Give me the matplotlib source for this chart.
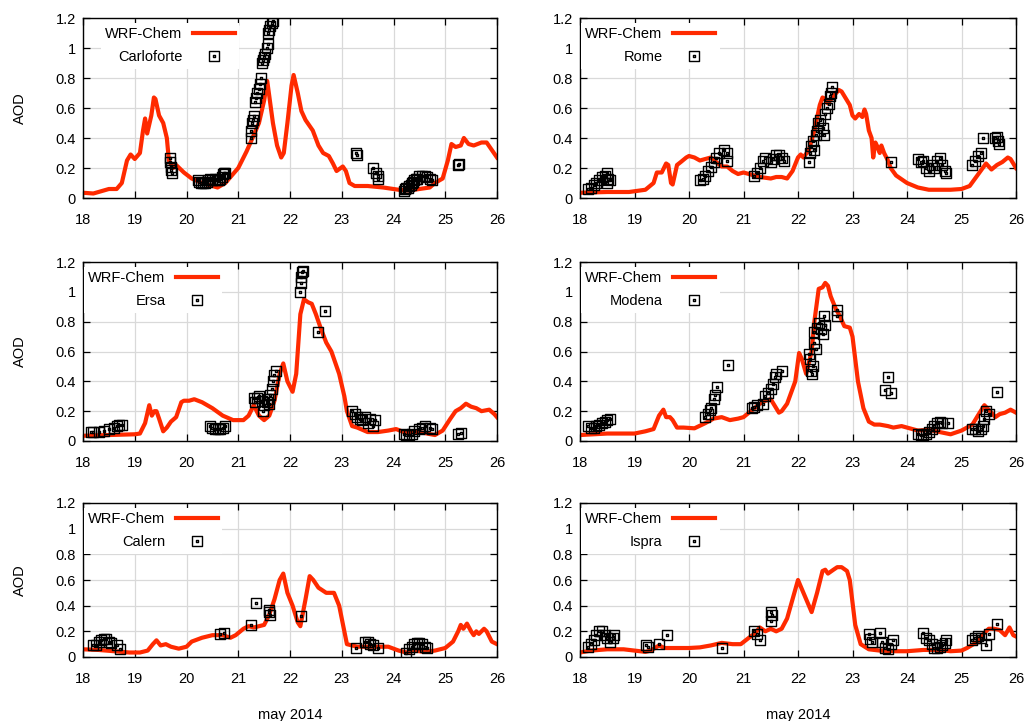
import matplotlib
matplotlib.use("Agg")
import matplotlib.pyplot as plt
from matplotlib.path import Path
from matplotlib.ticker import FormatStrFormatter, MultipleLocator

plt.rcParams['font.family'] = ['Liberation Sans', 'DejaVu Sans']
plt.rcParams['font.size'] = 10.5

# ---- WRF-Chem model curves (day of may 2014, AOD) ----
carlo_mod_t = [18.0, 18.2, 18.4, 18.5, 18.65, 18.75, 18.85, 18.92, 19.0, 19.1, 19.16, 19.2, 19.24,
               19.32, 19.37, 19.4, 19.47, 19.55, 19.62, 19.66, 19.74, 19.8, 19.95, 20.1, 20.3, 20.5,
               20.6, 20.75, 20.9, 21.0, 21.16, 21.25, 21.4, 21.5, 21.56, 21.67, 21.75, 21.83, 21.88,
               21.95, 22.03, 22.07, 22.15, 22.22, 22.3, 22.44, 22.55, 22.64, 22.75, 22.83, 22.9, 23.02,
               23.08, 23.15, 23.25, 23.5, 23.8, 24.1, 24.3, 24.5, 24.7, 24.8, 24.95, 25.05, 25.12,
               25.2, 25.3, 25.36, 25.45, 25.55, 25.7, 25.8, 25.9, 26.0]
carlo_mod = [0.035, 0.03, 0.05, 0.06, 0.06, 0.1, 0.25, 0.29, 0.26, 0.3, 0.45, 0.53, 0.43,
             0.55, 0.67, 0.66, 0.55, 0.5, 0.4, 0.25, 0.2, 0.22, 0.17, 0.13, 0.1, 0.08,
             0.07, 0.1, 0.16, 0.2, 0.31, 0.38, 0.5, 0.65, 0.78, 0.5, 0.35, 0.27, 0.3,
             0.5, 0.75, 0.82, 0.7, 0.58, 0.52, 0.45, 0.35, 0.3, 0.28, 0.23, 0.18, 0.21,
             0.18, 0.1, 0.08, 0.08, 0.07, 0.055, 0.05, 0.06, 0.07, 0.1, 0.13, 0.25, 0.36,
             0.34, 0.35, 0.4, 0.36, 0.35, 0.37, 0.37, 0.32, 0.27]

rome_mod_t = [18.0, 18.5, 18.9, 19.0, 19.2, 19.35, 19.41, 19.5, 19.58, 19.62, 19.67, 19.7, 19.78,
              19.85, 19.95, 20.0, 20.1, 20.2, 20.3, 20.4, 20.5, 20.6, 20.7, 20.8, 20.9, 21.0, 21.1,
              21.2, 21.3, 21.5, 21.6, 21.7, 21.8, 21.9, 22.0, 22.05, 22.1, 22.2, 22.3, 22.4, 22.45,
              22.5, 22.55, 22.65, 22.75, 22.8, 22.9, 22.95, 23.0, 23.05, 23.12, 23.18, 23.22, 23.25,
              23.3, 23.35, 23.38, 23.42, 23.46, 23.5, 23.53, 23.58, 23.65, 23.7, 23.8, 24.0, 24.2,
              24.4, 24.6, 24.8, 25.0, 25.15, 25.25, 25.35, 25.45, 25.55, 25.65, 25.75, 25.85, 25.9, 26.0]
rome_mod = [0.035, 0.04, 0.04, 0.045, 0.055, 0.1, 0.17, 0.17, 0.23, 0.22, 0.1, 0.09, 0.22,
            0.24, 0.27, 0.28, 0.27, 0.25, 0.26, 0.27, 0.24, 0.21, 0.21, 0.18, 0.16, 0.17, 0.16,
            0.15, 0.14, 0.13, 0.14, 0.14, 0.13, 0.18, 0.27, 0.29, 0.27, 0.32, 0.45, 0.62, 0.67,
            0.66, 0.63, 0.68, 0.72, 0.71, 0.65, 0.62, 0.55, 0.53, 0.56, 0.54, 0.59, 0.56,
            0.45, 0.4, 0.27, 0.37, 0.34, 0.3, 0.35, 0.3, 0.25, 0.2, 0.15, 0.1, 0.07,
            0.055, 0.055, 0.055, 0.06, 0.08, 0.13, 0.18, 0.23, 0.19, 0.22, 0.24, 0.27, 0.26, 0.2]

ersa_mod_t = [18.0, 18.5, 19.0, 19.1, 19.2, 19.28, 19.33, 19.38, 19.42, 19.47, 19.55, 19.62, 19.7,
              19.8, 19.9, 19.95, 20.05, 20.15, 20.3, 20.5, 20.7, 20.9, 21.1, 21.2, 21.3, 21.4, 21.5,
              21.6, 21.7, 21.8, 21.87, 21.95, 22.05, 22.12, 22.2, 22.27, 22.35, 22.42, 22.5, 22.6,
              22.7, 22.8, 22.9, 22.95, 23.05, 23.1, 23.2, 23.3, 23.5, 23.7, 23.9, 24.05, 24.2,
              24.5, 24.8, 24.95, 25.1, 25.2, 25.3, 25.4, 25.5, 25.6, 25.7, 25.85, 25.95, 26.0]
ersa_mod = [0.035, 0.04, 0.045, 0.05, 0.12, 0.24, 0.17, 0.2, 0.2, 0.15, 0.065, 0.09, 0.13,
            0.16, 0.26, 0.27, 0.27, 0.28, 0.26, 0.22, 0.17, 0.14, 0.14, 0.17, 0.24, 0.17, 0.14,
            0.17, 0.27, 0.45, 0.52, 0.4, 0.33, 0.45, 0.85, 0.95, 0.93, 0.92, 0.85, 0.75,
            0.66, 0.6, 0.5, 0.45, 0.3, 0.2, 0.1, 0.09, 0.06, 0.06, 0.07, 0.08, 0.06,
            0.06, 0.04, 0.07, 0.15, 0.2, 0.22, 0.25, 0.23, 0.22, 0.2, 0.21, 0.18, 0.16]

modena_mod_t = [18.0, 18.5, 19.0, 19.2, 19.35, 19.45, 19.53, 19.58, 19.65, 19.7, 19.78, 19.9, 20.1,
                20.3, 20.45, 20.6, 20.75, 20.9, 21.0, 21.1, 21.2, 21.3, 21.4, 21.5, 21.6, 21.65, 21.7,
                21.8, 21.95, 22.02, 22.07, 22.15, 22.25, 22.3, 22.38, 22.45, 22.5, 22.55, 22.6, 22.7,
                22.75, 22.85, 22.95, 23.0, 23.1, 23.2, 23.3, 23.4, 23.5, 23.65, 23.75, 23.9, 24.0,
                24.2, 24.4, 24.6, 24.8, 25.0, 25.2, 25.3, 25.42, 25.55, 25.62, 25.7, 25.8, 25.9, 26.0]
modena_mod = [0.04, 0.05, 0.05, 0.065, 0.08, 0.17, 0.21, 0.16, 0.16, 0.14, 0.09, 0.09, 0.085,
              0.12, 0.15, 0.16, 0.14, 0.15, 0.16, 0.19, 0.22, 0.25, 0.27, 0.28, 0.22, 0.19, 0.2,
              0.25, 0.4, 0.59, 0.55, 0.45, 0.6, 0.8, 1.02, 1.03, 1.06, 1.04, 0.97, 0.88,
              0.85, 0.77, 0.76, 0.7, 0.4, 0.22, 0.13, 0.11, 0.11, 0.1, 0.09, 0.1, 0.09,
              0.07, 0.075, 0.06, 0.045, 0.07, 0.11, 0.17, 0.24, 0.19, 0.16, 0.18, 0.19, 0.21, 0.19]

calern_mod_t = [18.0, 18.3, 18.6, 18.9, 19.1, 19.25, 19.35, 19.42, 19.5, 19.6, 19.7, 19.85, 20.0,
                20.1, 20.3, 20.5, 20.7, 20.85, 20.95, 21.1, 21.2, 21.3, 21.4, 21.5, 21.6, 21.7, 21.8,
                21.87, 21.95, 22.05, 22.15, 22.2, 22.3, 22.38, 22.45, 22.55, 22.7, 22.85, 22.95, 23.05,
                23.1, 23.3, 23.5, 23.7, 23.9, 24.1, 24.25, 24.4, 24.6, 24.8, 25.0, 25.15, 25.25, 25.3,
                25.35, 25.42, 25.5, 25.55, 25.6, 25.65, 25.75, 25.8, 25.9, 26.0]
calern_mod = [0.06, 0.055, 0.045, 0.035, 0.035, 0.05, 0.1, 0.13, 0.09, 0.1, 0.08, 0.065, 0.08,
              0.12, 0.15, 0.17, 0.17, 0.15, 0.17, 0.22, 0.24, 0.23, 0.24, 0.25, 0.33, 0.45, 0.6,
              0.65, 0.5, 0.4, 0.27, 0.24, 0.45, 0.63, 0.6, 0.54, 0.5, 0.5, 0.4, 0.2,
              0.1, 0.08, 0.08, 0.08, 0.08, 0.05, 0.035, 0.05, 0.04, 0.05, 0.07, 0.12, 0.2, 0.25,
              0.22, 0.26, 0.2, 0.17, 0.2, 0.18, 0.22, 0.2, 0.12, 0.1]

ispra_mod_t = [18.0, 18.2, 18.5, 18.8, 19.0, 19.2, 19.3, 19.45, 19.55, 19.7, 20.0, 20.2, 20.4,
               20.6, 20.8, 20.95, 21.1, 21.2, 21.3, 21.4, 21.5, 21.6, 21.7, 21.8, 21.9, 22.0, 22.1,
               22.25, 22.35, 22.45, 22.5, 22.55, 22.65, 22.72, 22.8, 22.9, 22.95, 23.05, 23.15, 23.3,
               23.5, 23.8, 24.0, 24.3, 24.6, 24.8, 25.0, 25.1, 25.3, 25.4, 25.5, 25.6, 25.7, 25.8,
               25.88, 25.95, 26.0]
ispra_mod = [0.035, 0.05, 0.06, 0.06, 0.05, 0.04, 0.05, 0.09, 0.07, 0.07, 0.07, 0.075, 0.09,
             0.11, 0.1, 0.1, 0.15, 0.18, 0.23, 0.2, 0.22, 0.2, 0.22, 0.3, 0.45, 0.6, 0.5,
             0.35, 0.5, 0.67, 0.68, 0.65, 0.68, 0.7, 0.7, 0.67, 0.6, 0.25, 0.1, 0.06,
             0.05, 0.045, 0.045, 0.055, 0.055, 0.045, 0.05, 0.07, 0.12, 0.18, 0.22, 0.22, 0.21, 0.17,
             0.23, 0.17, 0.16]

# ---- AERONET observations ----
carlo_obs_t = [19.68, 19.69, 19.7, 19.71, 19.72,
               20.22, 20.25, 20.28, 20.32, 20.35, 20.4, 20.42, 20.46, 20.5, 20.55, 20.58, 20.62,
               20.65, 20.68, 20.7, 20.72, 20.75,
               21.24, 21.25, 21.26, 21.28, 21.3, 21.32, 21.34, 21.37, 21.4, 21.42, 21.44, 21.46,
               21.48, 21.5, 21.52, 21.55, 21.57, 21.58, 21.6, 21.62, 21.65, 21.68,
               23.28, 23.3, 23.6, 23.67, 23.7, 23.71,
               24.2, 24.22, 24.25, 24.28, 24.3, 24.33, 24.35, 24.38, 24.4, 24.43, 24.45, 24.5,
               24.55, 24.6, 24.65, 24.7, 24.75,
               25.25, 25.27]
carlo_obs = [0.27, 0.24, 0.21, 0.19, 0.17,
             0.12, 0.11, 0.1, 0.1, 0.1, 0.11, 0.12, 0.13, 0.12, 0.13, 0.12, 0.12,
             0.13, 0.14, 0.16, 0.17, 0.17,
             0.4, 0.45, 0.5, 0.52, 0.55, 0.64, 0.67, 0.7, 0.73, 0.76, 0.8, 0.9,
             0.92, 0.94, 0.96, 1.0, 1.03, 1.1, 1.12, 1.15, 1.17, 1.18,
             0.3, 0.29, 0.2, 0.17, 0.15, 0.13,
             0.05, 0.06, 0.07, 0.07, 0.08, 0.09, 0.1, 0.11, 0.12, 0.13, 0.13, 0.15,
             0.15, 0.15, 0.14, 0.13, 0.12,
             0.22, 0.23]

rome_obs_t = [18.15, 18.2, 18.25, 18.3, 18.35, 18.4, 18.45, 18.5, 18.52, 18.55, 18.5,
              20.2, 20.25, 20.3, 20.35, 20.4, 20.45, 20.5, 20.55, 20.65, 20.7, 20.7,
              21.2, 21.25, 21.3, 21.35, 21.4, 21.5, 21.55, 21.6, 21.65, 21.7, 21.75,
              22.2, 22.22, 22.24, 22.27, 22.3, 22.33, 22.35, 22.37, 22.4, 22.45, 22.48, 22.5,
              22.53, 22.56, 22.58, 22.6, 22.62,
              23.7,
              24.2, 24.25, 24.3, 24.35, 24.4, 24.45, 24.5, 24.55, 24.6, 24.65, 24.7, 24.72,
              25.2, 25.25, 25.3, 25.35, 25.4,
              25.62, 25.65, 25.67, 25.68]
rome_obs = [0.06, 0.07, 0.09, 0.1, 0.12, 0.14, 0.15, 0.17, 0.13, 0.12, 0.1,
            0.12, 0.13, 0.15, 0.18, 0.21, 0.24, 0.27, 0.3, 0.32, 0.3, 0.25,
            0.15, 0.17, 0.2, 0.25, 0.27, 0.24, 0.26, 0.29, 0.29, 0.27, 0.25,
            0.24, 0.3, 0.35, 0.38, 0.32, 0.42, 0.45, 0.5, 0.52, 0.47, 0.42, 0.56,
            0.6, 0.63, 0.68, 0.7, 0.74,
            0.24,
            0.26, 0.24, 0.25, 0.2, 0.18, 0.22, 0.2, 0.25, 0.27, 0.22, 0.18, 0.17,
            0.22, 0.25, 0.28, 0.3, 0.4,
            0.4, 0.41, 0.38, 0.36]

ersa_obs_t = [18.15, 18.2, 18.3, 18.4, 18.5, 18.6, 18.65, 18.7, 18.75,
              20.45, 20.5, 20.55, 20.6, 20.65, 20.7, 20.75,
              21.3, 21.33, 21.37, 21.4, 21.45, 21.48, 21.5, 21.55, 21.58, 21.6, 21.62, 21.65,
              21.68, 21.7, 21.72,
              22.2, 22.21, 22.22, 22.24, 22.25,
              22.55, 22.68,
              23.2, 23.25, 23.3, 23.35, 23.4, 23.45, 23.5, 23.55, 23.6, 23.65,
              24.2, 24.25, 24.3, 24.35, 24.4, 24.5, 24.55, 24.6, 24.7, 24.75,
              25.25, 25.3]
ersa_obs = [0.06, 0.06, 0.06, 0.07, 0.08, 0.09, 0.1, 0.11, 0.11,
            0.1, 0.09, 0.08, 0.08, 0.08, 0.09, 0.1,
            0.29, 0.26, 0.29, 0.3, 0.27, 0.2, 0.24, 0.26, 0.28, 0.25, 0.31, 0.35,
            0.4, 0.44, 0.47,
            1.0, 1.06, 1.1, 1.13, 1.14,
            0.73, 0.87,
            0.2, 0.18, 0.16, 0.15, 0.14, 0.16, 0.12, 0.15, 0.1, 0.14,
            0.05, 0.04, 0.04, 0.05, 0.07, 0.08, 0.09, 0.1, 0.09, 0.08,
            0.05, 0.055]

modena_obs_t = [18.15, 18.2, 18.25, 18.3, 18.35, 18.4, 18.45, 18.5, 18.55,
                20.3, 20.35, 20.38, 20.4, 20.45, 20.47, 20.52,
                20.72,
                21.15, 21.2, 21.25, 21.35, 21.4, 21.45, 21.5, 21.55, 21.58, 21.6, 21.7,
                22.2, 22.22, 22.24, 22.25, 22.27, 22.3, 22.33, 22.3, 22.35, 22.38, 22.42, 22.45,
                22.48, 22.5,
                22.72, 22.72,
                23.6, 23.65, 23.7,
                24.2, 24.25, 24.3, 24.35, 24.4, 24.45, 24.5, 24.55, 24.6, 24.65, 24.75,
                25.2, 25.25, 25.3, 25.35, 25.4, 25.42, 25.45, 25.5,
                25.65]
modena_obs = [0.1, 0.09, 0.09, 0.1, 0.11, 0.12, 0.13, 0.14, 0.15,
              0.16, 0.18, 0.21, 0.22, 0.28, 0.31, 0.36,
              0.51,
              0.22, 0.23, 0.24, 0.25, 0.3, 0.32, 0.35, 0.38, 0.43, 0.45, 0.47,
              0.58, 0.55, 0.47, 0.45, 0.5, 0.66, 0.62, 0.73, 0.76, 0.79, 0.75, 0.72,
              0.84, 0.78,
              0.88, 0.84,
              0.34, 0.43, 0.32,
              0.05, 0.04, 0.04, 0.05, 0.06, 0.08, 0.1, 0.12, 0.13, 0.12, 0.12,
              0.08, 0.08, 0.07, 0.08, 0.1, 0.15, 0.2, 0.18,
              0.33]

calern_obs_t = [18.2, 18.25, 18.3, 18.35, 18.4, 18.45, 18.5, 18.55, 18.65, 18.72,
                20.65, 20.72,
                21.25, 21.35,
                21.6, 21.62, 21.6,
                22.22,
                23.28, 23.45, 23.5, 23.55, 23.6, 23.7,
                24.25, 24.3, 24.35, 24.4, 24.45, 24.5, 24.55, 24.6, 24.65]
calern_obs = [0.09, 0.09, 0.12, 0.13, 0.14, 0.14, 0.12, 0.11, 0.09, 0.06,
              0.18, 0.19,
              0.25, 0.42,
              0.37, 0.33, 0.35,
              0.32,
              0.07, 0.12, 0.12, 0.1, 0.09, 0.07,
              0.03, 0.06, 0.08, 0.1, 0.11, 0.11, 0.1, 0.08, 0.07]

ispra_obs_t = [18.15, 18.2, 18.25, 18.3, 18.35, 18.4, 18.45, 18.5, 18.55, 18.6, 18.62,
               19.22, 19.25, 19.45, 19.6,
               20.6,
               21.2, 21.25, 21.3,
               21.5, 21.52, 21.5,
               23.3, 23.32, 23.35, 23.5, 23.55, 23.6, 23.65, 23.7, 23.75,
               24.3, 24.35, 24.4, 24.45, 24.5, 24.55, 24.6, 24.65, 24.7, 24.72,
               25.2, 25.25, 25.3, 25.35, 25.45, 25.5, 25.65]
ispra_obs = [0.08, 0.1, 0.13, 0.17, 0.2, 0.2, 0.17, 0.15, 0.12, 0.15, 0.17,
             0.09, 0.08, 0.1, 0.17,
             0.07,
             0.2, 0.18, 0.13,
             0.28, 0.33, 0.35,
             0.18, 0.14, 0.12, 0.19, 0.12, 0.07, 0.06, 0.1, 0.13,
             0.19, 0.15, 0.13, 0.1, 0.07, 0.07, 0.08, 0.09, 0.11, 0.13,
             0.13, 0.15, 0.16, 0.15, 0.09, 0.18, 0.26]

stations = ['Carloforte', 'Rome', 'Ersa', 'Modena', 'Calern', 'Ispra']
model_t = [carlo_mod_t, rome_mod_t, ersa_mod_t, modena_mod_t, calern_mod_t, ispra_mod_t]
model_aod = [carlo_mod, rome_mod, ersa_mod, modena_mod, calern_mod, ispra_mod]
obs_t = [carlo_obs_t, rome_obs_t, ersa_obs_t, modena_obs_t, calern_obs_t, ispra_obs_t]
obs_aod = [carlo_obs, rome_obs, ersa_obs, modena_obs, calern_obs, ispra_obs]

# square with a dot inside (gnuplot style point)
M, L, C = Path.MOVETO, Path.LINETO, Path.CLOSEPOLY
d = 0.16
box_dot = Path([(-1, -1), (1, -1), (1, 1), (-1, 1), (-1, -1),
                (-d, -d), (d, -d), (d, d), (-d, d), (-d, -d)],
               [M, L, L, L, C, M, L, L, L, C])

W, H = 1025, 721
# axes boxes in pixels: left, top, right, bottom
boxes = [(83, 18, 497, 198), (580, 18, 1016, 198),
         (83, 262, 497, 441), (580, 262, 1016, 441),
         (83, 503, 497, 657), (580, 503, 1016, 657)]

fig = plt.figure(figsize=(W / 100, H / 100), dpi=100)

for i, name in enumerate(stations):
    l, t, r, b = boxes[i]
    ax = fig.add_axes([l / W, (H - b) / H, (r - l) / W, (b - t) / H])
    ax.grid(True, color='#d9d9d9', lw=0.9)
    ax.set_axisbelow(True)
    ax.plot(model_t[i], model_aod[i], color='#ff2a00', lw=3.0, label='WRF-Chem',
            solid_joinstyle='round', zorder=2)
    ax.plot(obs_t[i], obs_aod[i], ls='none', marker=box_dot, ms=7, mfc='none',
            mec='black', mew=1.0, label=name, zorder=3)
    ax.set_xlim(18, 26)
    ax.set_ylim(0, 1.2)
    ax.xaxis.set_major_locator(MultipleLocator(1))
    ax.yaxis.set_major_locator(MultipleLocator(0.2))
    ax.yaxis.set_major_formatter(FormatStrFormatter('%g'))
    ax.tick_params(direction='in', length=5, width=0.9, top=True, right=True,
                   labelsize=10.5)
    ax.tick_params(axis='x', pad=11)
    ax.tick_params(axis='y', pad=5)
    for sp in ax.spines.values():
        sp.set_linewidth(1.0)
    if i % 2 == 0:
        ax.set_ylabel('AOD', labelpad=21)
    if i >= 4:
        ax.set_xlabel('may 2014', labelpad=16)
    # gnuplot key: sized by character count, so long names push it right
    dx = 1 + max(0, len(name) - 8) * 8.5
    leg = ax.legend(loc='upper left', bbox_to_anchor=(dx / (r - l), 1 - 5.0 / (b - t)),
                    markerfirst=False, numpoints=1, handlelength=2.9, handletextpad=0.7,
                    labelspacing=0.6, borderaxespad=0.0, borderpad=0.3, fancybox=False,
                    framealpha=1.0, edgecolor='white', fontsize=10.5)
    leg.get_frame().set_linewidth(0)

fig.savefig('out.png', dpi=100)
